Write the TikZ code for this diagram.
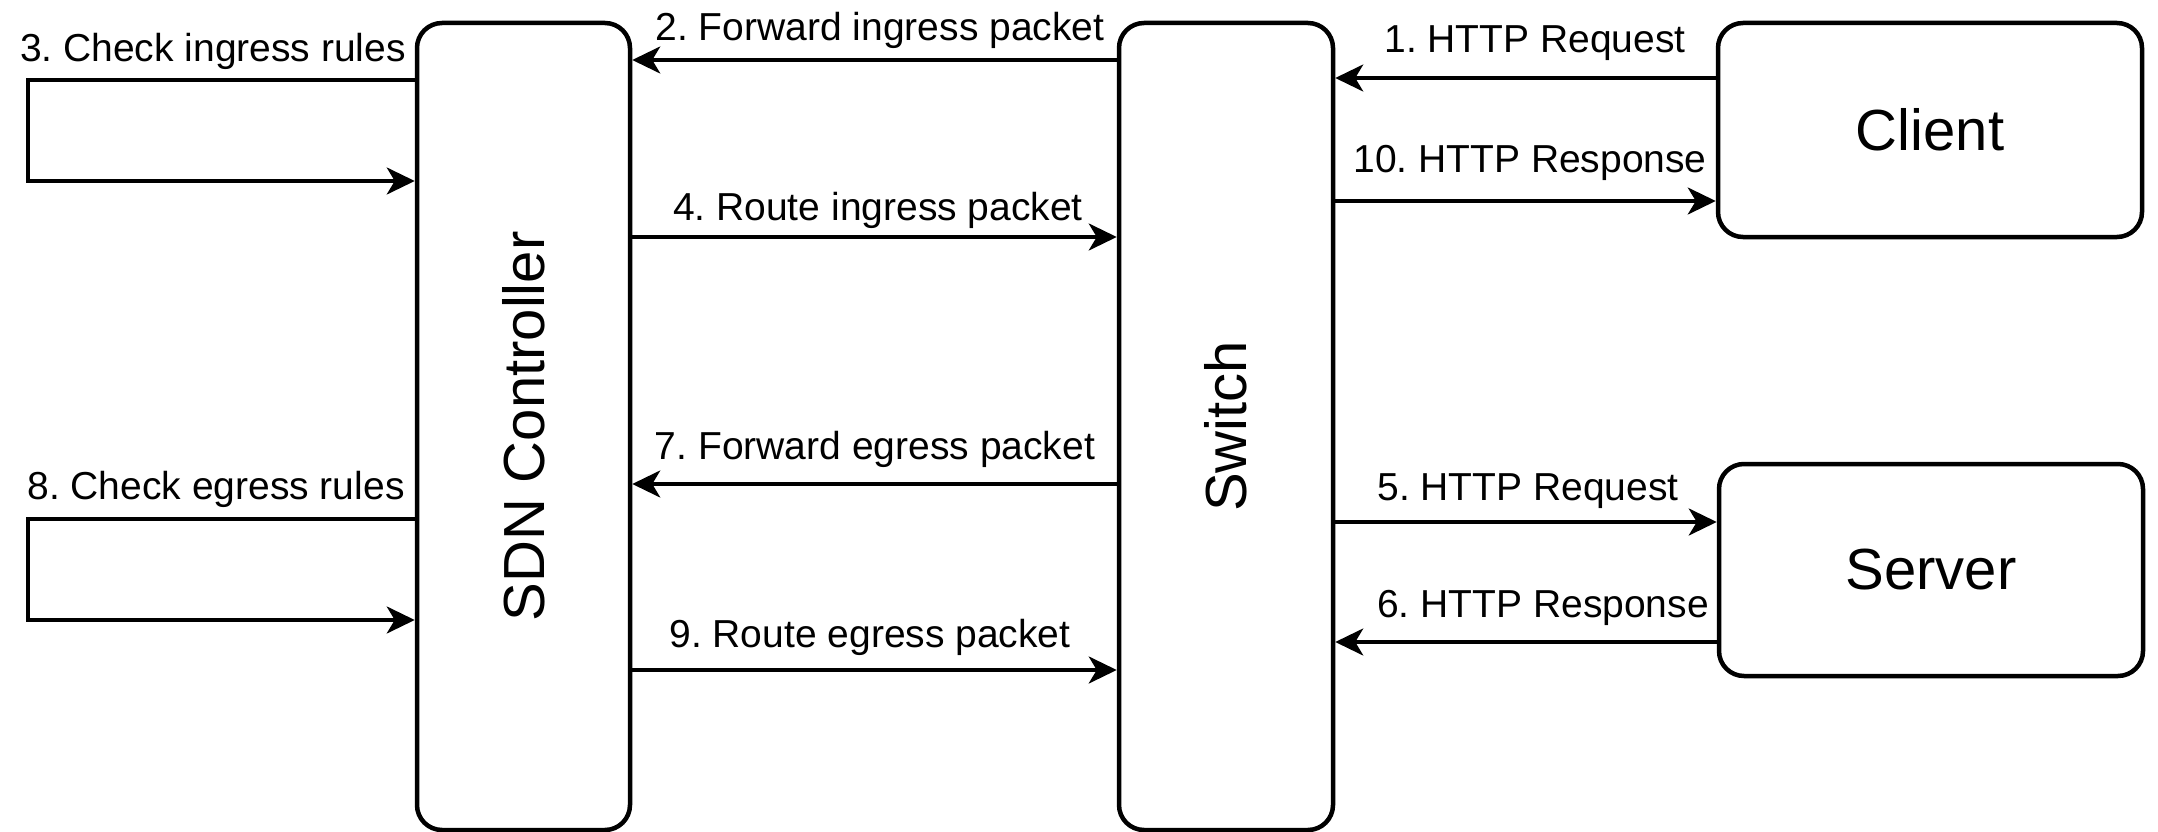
\documentclass[tikz,border=0pt]{standalone}
\usepackage{fontspec}
\setmainfont{Liberation Sans}
\usetikzlibrary{arrows.meta}
\frenchspacing

\begin{document}
\begin{tikzpicture}[x=1pt,y=-1pt,
  box/.style={draw=black, line width=4.5pt, rounded corners=25pt, fill=white, inner sep=0pt},
  big/.style={font=\fontsize{58}{70}\selectfont},
  lbl/.style={font=\fontsize{39}{47}\selectfont, inner sep=0pt, anchor=base},
  flow/.style={line width=3.5pt, -{Stealth[length=28pt,width=27pt,inset=8pt]}},
]
\useasboundingbox (0,0) rectangle (2158,832);

% Components
\node[box, big, minimum width=213pt, minimum height=807pt] (sdn) at (523.5,426.5) {\rotatebox{90}{SDN Controller}};
\node[box, big, minimum width=214pt, minimum height=807pt] (switch) at (1226,426.5) {\rotatebox{90}{Switch}};
\node[box, big, minimum width=424pt, minimum height=214pt] (client) at (1930,130) {Client};
\node[box, big, minimum width=424pt, minimum height=212pt] (server) at (1931,570) {Server};

% Ingress path
\draw[flow] (client.west |- 0,78) -- (switch.east |- 0,78);
\node[lbl] (t1) at (1535,53) {1. HTTP Request};
\draw[flow] (switch.west |- 0,60) -- (sdn.east |- 0,60);
\node[lbl] (t2) at (880,41) {2. Forward ingress packet};
\coordinate (l3) at (28,80);
\draw[flow] (sdn.west |- l3) -- (l3) -- (l3 |- 0,181) -- (sdn.west |- 0,181);
\node[lbl] (t3) at (213,62) {3. Check ingress rules};
\draw[flow] (sdn.east |- 0,237) -- (switch.west |- 0,237);
\node[lbl] (t4) at (878,220) {4. Route ingress packet};

% Server exchange
\draw[flow] (switch.east |- 0,522) -- (server.west |- 0,522);
\node[lbl] (t5) at (1528,500) {5. HTTP Request};
\draw[flow] (server.west |- 0,642) -- (switch.east |- 0,642);
\node[lbl] (t6) at (1543,617) {6. HTTP Response};

% Egress path
\draw[flow] (switch.west |- 0,484) -- (sdn.east |- 0,484);
\node[lbl] (t7) at (875,459) {7. Forward egress packet};
\coordinate (l8) at (28,519);
\draw[flow] (sdn.west |- l8) -- (l8) -- (l8 |- 0,620) -- (sdn.west |- 0,620);
\node[lbl] (t8) at (216,499) {8. Check egress rules};
\draw[flow] (sdn.east |- 0,670) -- (switch.west |- 0,670);
\node[lbl] (t9) at (870,647) {9. Route egress packet};
\draw[flow] (switch.east |- 0,201) -- (client.west |- 0,201);
\node[lbl] (t10) at (1530,172) {10. HTTP Response};
\end{tikzpicture}
\end{document}
